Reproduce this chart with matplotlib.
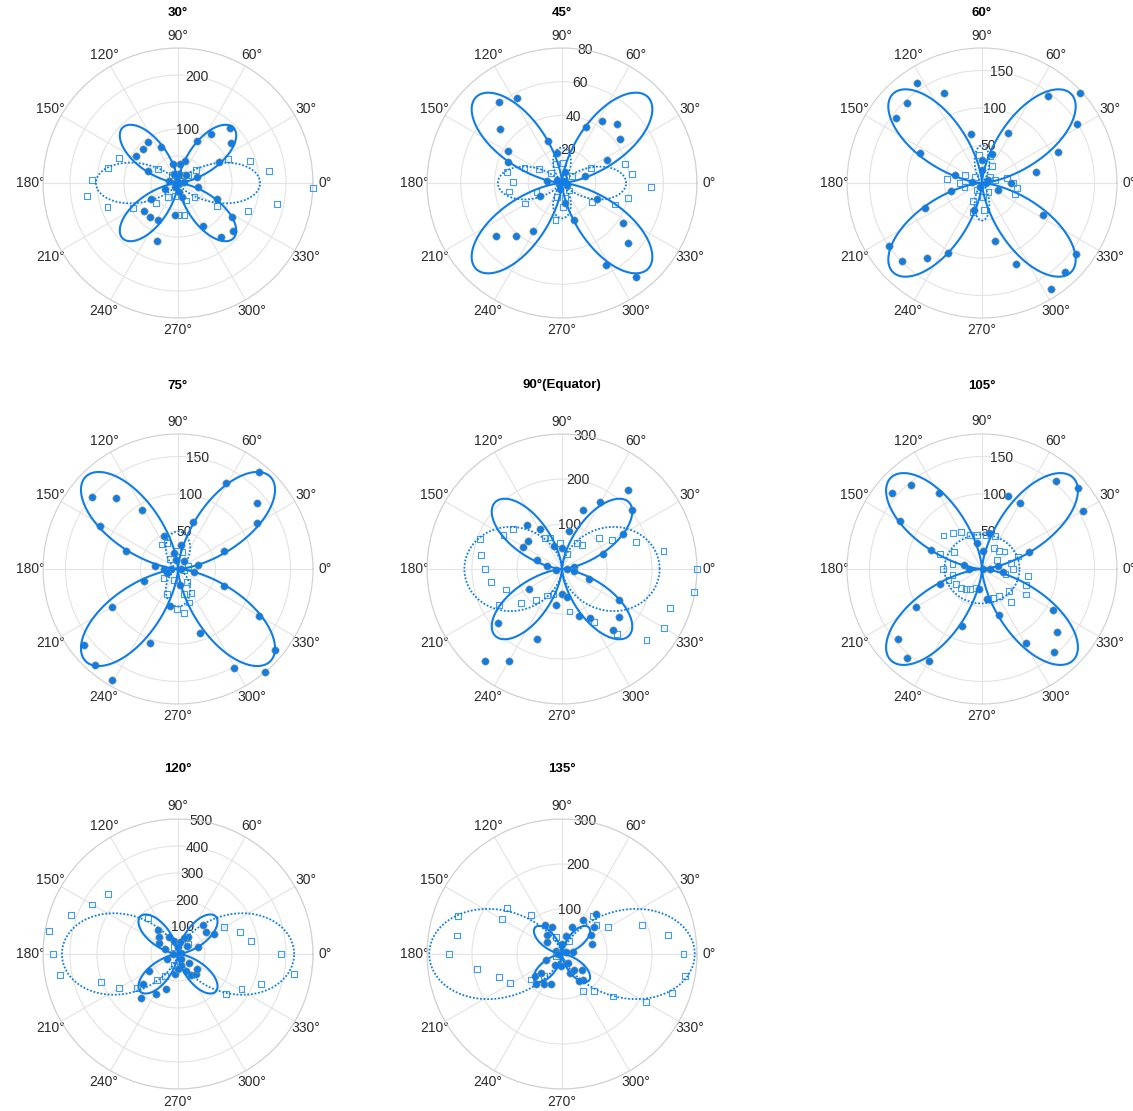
import numpy as np
import matplotlib.pyplot as plt

plt.rcParams['font.family'] = ['Liberation Sans', 'DejaVu Sans']

titles = ['30°', '45°', '60°', '75°', '90°(Equator)', '105°', '120°', '135°']
r_max = [250, 80, 180, 180, 300, 180, 500, 300]
r_ticks = [[50, 100, 150, 200, 250], [20, 40, 60, 80], [50, 100, 150], [50, 100, 150],
           [100, 200, 300], [50, 100, 150], [100, 200, 300, 400, 500], [100, 200, 300]]
r_shown = [[100, 200], [20, 40, 60, 80], [50, 100, 150], [50, 100, 150],
           [100, 200, 300], [50, 100, 150], [100, 200, 300, 400, 500], [100, 200, 300]]

# fitted curves: four-leaf amplitude, two-lobe horizontal / vertical amplitude and exponent
leaf_amp = [145, 72, 168, 174, 210, 172, 197, 84]
lobe_h = [152, 38, 0, 0, 217, 50, 430, 295]
lobe_v = [0, 21, 50, 50, 0, -46, 0, 0]
lobe_p = [5.5, 5, 9, 3, 1.5, 2, 2.5, 2.7]

# measured points, (angle deg, value)
circ_30 = [(47, 140), (56, 110), (66, 85), (37, 123), (27, 85), (73, 43), (83, 36), (104, 37),
           (126, 94), (136, 90), (115, 73), (147, 92), (158, 60), (167, 17), (16, 37), (-11, 37),
           (204, 26), (210, 58), (220, 81), (231, 81), (241, 78), (250, 114), (264, 59), (286, 27),
           (300, 92), (309, 128), (319, 135), (328, 118), (337, 78), (180, 5), (0, 4), (10, 11),
           (100, 11), (86, 17), (46, 20), (115, 19), (274, 17), (236, 9)]
sq_30 = [(-2, 250), (-12, 188), (7.5, 170), (17, 140), (-22, 140), (26, 103), (-31, 84), (35, 41),
         (-40, 40), (157, 118), (168, 132), (178, 160), (188, 170), (199, 138), (209, 95), (222, 55),
         (146, 45), (234, 32), (296, 36), (271, 60), (281, 61), (258, 24), (38, 23), (128, 18),
         (90, 27), (62, 16)]

circ_45 = [(128, 61), (118, 57), (139, 49), (149, 37), (159, 34), (108, 26), (99, 18), (172, 9),
           (67, 36), (57, 44), (47, 48), (37, 43), (27, 30), (17, 14), (74, 7), (211, 15),
           (239, 33), (229, 42), (219, 50), (278, 12), (288, 23), (336, 23), (327, 43), (318, 53),
           (298, 55), (308, 71), (190, 2), (40, 2), (253, 3.5), (335, 3.2), (152, 3.3)]
sq_45 = [(-2.5, 53), (7.5, 42), (17, 39), (-13, 40), (-22, 34), (-33, 21), (27, 19), (179, 29),
         (169, 33), (189, 32), (209, 25), (158, 24), (148, 16), (199, 16), (137, 9), (108, 12),
         (87, 12), (260, 22), (272, 14), (250, 9), (34, 7), (283, 9), (312, 6)]

circ_60 = [(123, 159), (113, 130), (133, 146), (143, 144), (154, 92), (103, 67), (91, 31), (71, 41),
           (62, 75), (53, 146), (42.5, 177), (32, 149), (22, 110), (11.5, 74), (0, 39), (164, 37),
           (195, 43), (204, 83), (214, 150), (224, 149), (234, 124), (244, 104), (254, 38), (283, 80),
           (293, 117), (303, 169), (313, 163), (323, 157), (332, 92), (337, 23), (90, 17), (172, 13),
           (0, 5), (243, 6), (23, 9)]
sq_60 = [(-8, 47), (0, 42), (-18, 46), (11, 34), (174, 47), (156, 25), (180, 30), (193, 24),
         (96, 38), (73, 37), (59, 26), (245, 27), (253, 40), (274, 36), (139, 12), (37, 13.5),
         (12, 18), (234, 12), (305, 15), (275, 19)]

circ_75 = [(140, 150), (131, 125), (121, 92), (151, 119), (161, 74), (172, 31), (113, 48), (105, 22),
           (84, 32), (72, 66), (61, 131), (50, 169), (40, 137), (30.5, 122), (21, 66), (11, 27),
           (-12, 22), (-20, 65), (-30, 125), (-40, 169), (-50, 180), (-60.6, 151), (-71, 90),
           (-83, 21), (258, 50), (199, 48), (210, 101), (249, 106), (219, 161), (229, 169),
           (239, 172), (180, 19), (180, 10), (0, 4.5), (104, 13), (52, 13), (200, 15.5)]
sq_75 = [(123, 39), (112, 38), (-76, 34), (-72, 47), (-61, 37), (-82, 59), (268, 53), (246, 36),
         (213, 23), (-55, 21), (92, 24), (75, 23), (131, 17), (18, 14), (190, 14), (350, 8), (250, 15)]

circ_90 = [(50, 228), (40, 204), (60, 171), (70, 139), (79.5, 85), (30, 157), (20, 98), (91, 47),
           (129, 125), (119, 102), (140, 98), (150, 100), (109, 53), (160, 60), (170, 33), (187, 13),
           (0, 12), (10, 27), (-20, 65), (-11, 27), (211, 85), (261, 82), (271, 55), (279, 64),
           (290, 110), (300, 126), (331, 144), (320, 165), (310, 176), (220, 186), (250, 165),
           (230, 266), (240, 237)]
sq_90 = [(0, 300), (-10, 298), (-20, 256), (-30, 262), (-40, 245), (10, 229), (20, 174), (30.5, 128),
         (40, 107), (50, 70), (59.5, 67), (71, 36), (-59, 137), (-50, 189), (-80, 96), (160, 194),
         (170, 182), (180, 172), (190, 161), (200, 133), (210, 161), (220, 118), (230, 89), (240, 68),
         (251, 58), (150, 150), (140.5, 140), (119, 79), (111, 75), (94, 58)]

circ_105 = [(140, 157), (130, 147), (119.5, 117), (150, 127), (160, 73), (168.5, 25), (180, 17),
            (100, 35), (88, 24), (79, 49), (70, 103), (60, 101), (50, 154), (40, 167), (30, 155),
            (20, 67), (11.5, 22), (0, 10), (-9, 28), (-30, 110), (-40, 131), (-49, 147), (-59.5, 115),
            (-69.5, 66), (-80, 41), (261, 27), (200, 60), (210, 101), (251, 80), (220, 146),
            (230, 155), (240, 141), (0, 1)]
sq_105 = [(139, 68), (129, 61), (120, 57), (110, 48), (98, 46), (84, 45), (69, 47), (60, 33),
          (46, 33), (38, 38), (19, 51), (0, 41), (-9, 62), (-20, 62), (-30, 68), (-39, 47), (-49, 59),
          (-58, 43), (160, 60), (149, 43), (180, 52), (170, 40), (191, 40), (198, 47), (210, 40),
          (222, 38), (231, 34), (240, 31), (252, 27), (-69, 41), (-79, 41), (32, 23), (12, 39),
          (-12, 32)]

circ_120 = [(49.5, 143), (39, 132), (29.5, 153), (59.5, 73), (69, 63), (19, 79), (39, 45), (130, 115),
            (139, 95), (150, 83), (118, 71), (107.5, 49), (80, 45), (90, 25), (158, 50), (180, 20),
            (10, 12), (203, 44), (211, 125), (221, 172), (230, 212), (241, 170), (251.5, 137),
            (260.5, 75), (284, 41), (294, 70), (303, 91), (312, 102), (322, 90), (321, 53),
            (270, 56), (300, 20)]
sq_120 = [(-10, 436), (0, 383), (-20, 328), (10, 273), (20, 243), (30, 197), (-29, 269),
          (-39.5, 232), (46, 53), (170, 485), (180, 463), (190, 445), (160, 423), (150, 367),
          (139.5, 341), (200, 305), (210, 253), (220, 198), (232, 124), (240, 93), (130, 174),
          (249, 42), (120, 30)]

circ_135 = [(50, 117), (59, 89), (40, 94), (32.5, 77), (18, 71), (69, 64), (78, 40), (88, 22), (9, 25),
            (120, 74), (110, 63), (129, 53), (141, 42), (155, 14), (200, 37), (240, 29), (220, 77),
            (229, 88), (239, 77), (250, 70), (223, 63), (267, 26), (292, 46), (307, 44), (321, 58),
            (309, 74), (302, 70), (304, 24), (180, 8), (30, 10)]
sq_135 = [(-10, 278), (0, 270), (10, 240), (20, 189), (30, 119), (40, 100), (50.5, 109),
          (-19.6, 259), (-30, 215), (-39.7, 148), (-49.7, 109), (-60, 94), (180, 251), (170, 237),
          (160, 245), (190, 192), (200, 149), (209.5, 132), (140, 159), (150, 155), (129, 111),
          (219, 90), (230, 63), (61, 32), (109, 39), (280, 20), (200, 15)]

circles = [circ_30, circ_45, circ_60, circ_75, circ_90, circ_105, circ_120, circ_135]
squares = [sq_30, sq_45, sq_60, sq_75, sq_90, sq_105, sq_120, sq_135]

# panel centres in pixels and title heights
centers = [(178, 183), (562, 183), (982, 183),
           (178, 569), (562, 569), (982, 569),
           (178, 954), (562, 954)]
title_y = [13, 13, 13, 386, 385, 386, 769, 769]

W, H, R = 1133, 1111, 135
blue = '#0f7de8'
light = '#3f9bf5'
txt = '#2b2b2b'

fig = plt.figure(figsize=(W / 100, H / 100), dpi=100)
th = np.linspace(0, 2 * np.pi, 1441)

for i in range(8):
    cx, cy = centers[i]
    ax = fig.add_axes([(cx - R) / W, (H - cy - R) / H, 2 * R / W, 2 * R / H], projection='polar')

    c = np.array(circles[i], dtype=float)
    s = np.array(squares[i], dtype=float)
    ax.scatter(np.deg2rad(s[:, 0]), s[:, 1], s=18, marker='s', facecolors='none',
               edgecolors=light, linewidths=0.8, clip_on=False, zorder=3)
    ax.scatter(np.deg2rad(c[:, 0]), c[:, 1], s=28, marker='o', color=blue,
               edgecolors='#a89a62', linewidths=0.4, clip_on=False, zorder=4)

    leaf = leaf_amp[i] * np.sin(2 * th) ** 2
    lobe = np.abs(lobe_h[i] * np.abs(np.cos(th)) ** lobe_p[i]
                  - lobe_v[i] * np.abs(np.sin(th)) ** lobe_p[i])
    ax.plot(th, leaf, color=blue, lw=1.5, zorder=5)
    ax.plot(th, lobe, color=blue, lw=1.3, ls=(0, (1, 1)), zorder=5)

    ax.set_ylim(0, r_max[i])
    ax.set_thetagrids(range(0, 360, 30), labels=[f'{a}°' for a in range(0, 360, 30)],
                      fontsize=10, color=txt)
    ax.set_rgrids(r_ticks[i], labels=[''] * len(r_ticks[i]))
    for t in r_shown[i]:
        ax.text(np.deg2rad(80), t, str(t), ha='center', va='center', fontsize=10,
                color=txt, zorder=2)
    ax.tick_params(axis='x', pad=-1.5)
    ax.grid(color='#e3e3e3', lw=0.8)
    ax.spines['polar'].set_color('#cfcfcf')
    ax.spines['polar'].set_linewidth(0.8)

    fig.text(cx / W, 1 - title_y[i] / H, titles[i], ha='center', va='center',
             fontsize=9.5, fontweight='bold')

fig.savefig('out.png', dpi=100)
